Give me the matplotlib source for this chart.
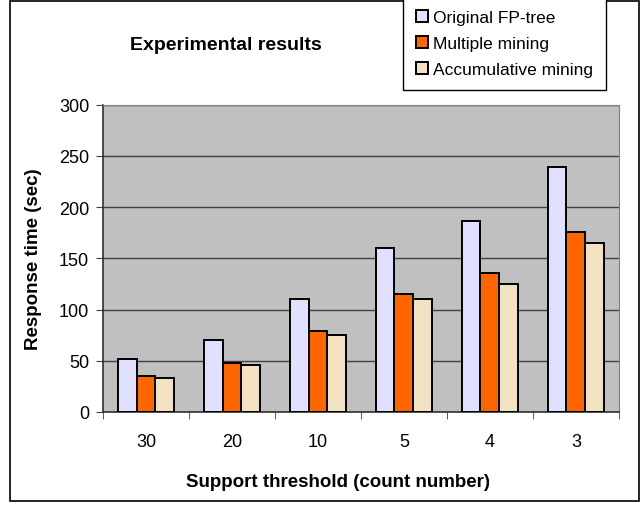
import numpy as np
import matplotlib
matplotlib.use('Agg')
import matplotlib.pyplot as plt
from matplotlib.patches import Rectangle

plt.rcParams['font.family'] = ['Liberation Sans', 'DejaVu Sans']

# Daten
thresholds = ['30', '20', '10', '5', '4', '3']
original = [52, 70, 110, 160, 186, 239]
multiple = [35, 48, 79, 115, 136, 176]
accumulative = [33, 46, 75, 110, 125, 165]
seriesNames = ['Original FP-tree', 'Multiple mining', 'Accumulative mining']
colors = ['#E0E0FF', '#FF6600', '#F2E2C2']

fig = plt.figure(figsize=(6.44, 5.06), dpi=100)
ax = fig.add_axes([0.160, 0.184, 0.801, 0.607])

x = np.arange(len(thresholds))
w = 0.22
for i, vals in enumerate([original, multiple, accumulative]):
    ax.bar(x + (i - 1) * w, vals, w, color=colors[i], edgecolor='black',
           linewidth=1.4, label=seriesNames[i], zorder=3)

ax.set_facecolor('#C0C0C0')
ax.set_xlim(-0.5, len(thresholds) - 0.5)
ax.set_ylim(0, 300)
ax.set_yticks(range(0, 301, 50))
ax.yaxis.grid(True, color='#404040', linewidth=1.0, zorder=1)
ax.set_axisbelow(True)

# x: Beschriftung mittig, Striche zwischen den Gruppen
ax.set_xticks(x)
ax.set_xticklabels(thresholds)
ax.set_xticks(np.arange(-0.5, len(thresholds)), minor=True)
ax.tick_params(axis='x', which='major', length=0, pad=15, labelsize=13)
ax.tick_params(axis='x', which='minor', length=5, direction='out', color='#404040')
ax.tick_params(axis='y', length=5, direction='out', labelsize=13, color='#404040', pad=5)

for s in ['top', 'right']:
    ax.spines[s].set_color('#808080')
for s in ['left', 'bottom']:
    ax.spines[s].set_color('#303030')
    ax.spines[s].set_linewidth(1.2)

ax.set_xlabel('Support threshold (count number)', fontsize=13.5, fontweight='bold', labelpad=12)
ax.xaxis.set_label_coords(0.455, -0.2)
ax.set_ylabel('Response time (sec)', fontsize=13.5, fontweight='bold', labelpad=12)

fig.text(0.35, 0.91, 'Experimental results', fontsize=14, fontweight='bold', ha='center', va='center')

leg = fig.legend(loc='upper left', bbox_to_anchor=(0.626, 1.004), fancybox=False,
                 edgecolor='black', framealpha=1, fontsize=12.5, handlelength=0.7,
                 handleheight=0.7, handletextpad=0.25, labelspacing=0.62,
                 borderpad=0.75, borderaxespad=0)
leg.get_frame().set_linewidth(1.0)

# Rahmen ums ganze Bild
fig.patches.append(Rectangle((10 / 644, 1 - 502 / 506), 629 / 644, 500 / 506,
                             transform=fig.transFigure, fill=False,
                             edgecolor='black', linewidth=1.2))

fig.savefig('out.png', dpi=100)
